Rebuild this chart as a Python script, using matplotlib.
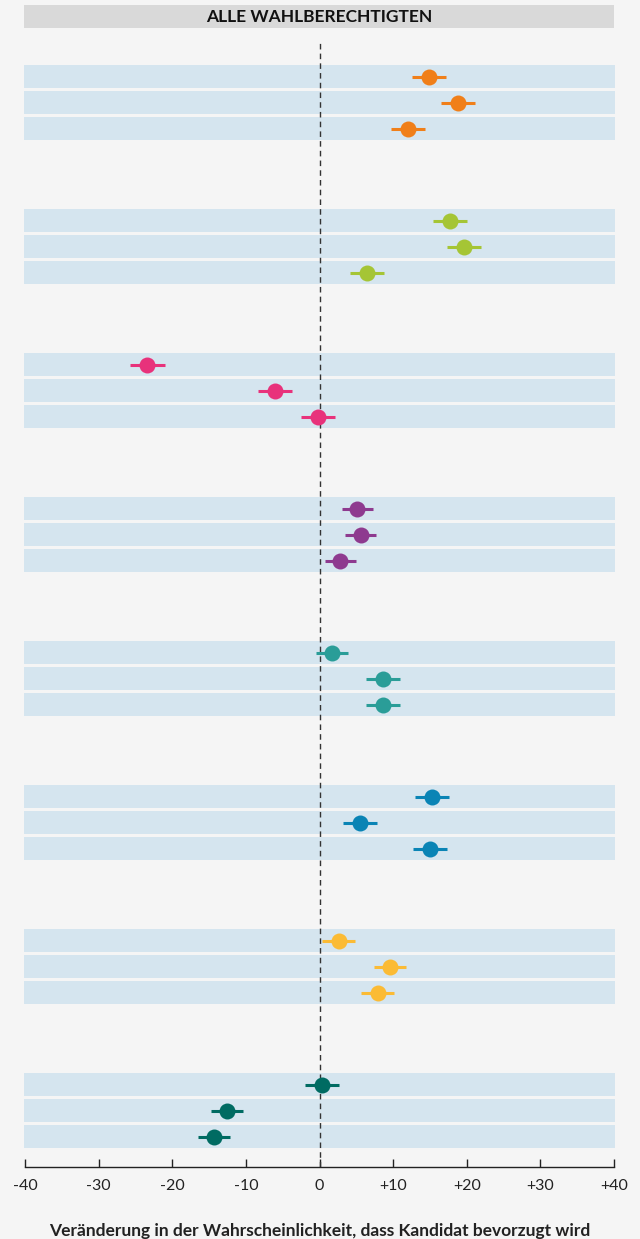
import matplotlib.pyplot as plt
from matplotlib.patches import Rectangle

plt.rcParams['font.family'] = ['Lato', 'DejaVu Sans']

# Werte je Gruppe (3 Zeilen pro Gruppe), Reihenfolge von oben nach unten
group_values = [
    [14.9, 18.8, 12.0],
    [17.7, 19.6, 6.5],
    [-23.4, -6.0, -0.2],
    [5.1, 5.6, 2.8],
    [1.7, 8.6, 8.6],
    [15.3, 5.5, 15.0],
    [2.6, 9.6, 7.9],
    [0.3, -12.6, -14.3],
]
group_err = [
    [2.3, 2.3, 2.3],
    [2.3, 2.3, 2.3],
    [2.4, 2.3, 2.3],
    [2.1, 2.1, 2.1],
    [2.2, 2.3, 2.3],
    [2.3, 2.3, 2.3],
    [2.2, 2.2, 2.2],
    [2.3, 2.2, 2.2],
]
group_colors = ["#f07f19", "#a5c535", "#e8327b", "#8e3a8f",
                "#2a9d98", "#0a84b5", "#fbbb35", "#006b62"]

xticks = [-40, -30, -20, -10, 0, 10, 20, 30, 40]
xticklabels = ["-40", "-30", "-20", "-10", "0", "+10", "+20", "+30", "+40"]

title = "ALLE WAHLBERECHTIGTEN"
xlabel = "Veränderung in der Wahrscheinlichkeit, dass Kandidat bevorzugt wird"

BG = "#f5f5f5"
BAND = "#d5e5ef"
GROUP_PITCH = 144 / 26.0

fig = plt.figure(figsize=(6.4, 12.39), dpi=100, facecolor=BG)
H = 1239.0
W = 640.0
ax = fig.add_axes([25 / W, (H - 1167) / H, 589 / W, (1167 - 43) / H])
ax.set_facecolor(BG)

for g, (vals, errs, col) in enumerate(zip(group_values, group_err, group_colors)):
    for r, (v, e) in enumerate(zip(vals, errs)):
        y = g * GROUP_PITCH + r
        ax.barh(y, 80.4, left=-40.2, height=23 / 26.0, color=BAND, zorder=1, clip_on=False)
        ax.plot([v - e, v + e], [y, y], color=col, lw=2.2, solid_capstyle="butt", zorder=3)
        ax.plot(v, y, "o", color=col, ms=11.5, mew=0, zorder=4)

last = (len(group_values) - 1) * GROUP_PITCH + 2
ax.set_ylim(last + 30.5 / 26, -33.5 / 26)
ax.set_xlim(-40, 40)
ax.axvline(0, color="#333333", lw=1, ls=(0, (4, 3)), zorder=2)

for s in ["top", "right", "left"]:
    ax.spines[s].set_visible(False)
ax.spines["bottom"].set_color("#222222")
ax.spines["bottom"].set_linewidth(1)
ax.set_yticks([])
ax.set_xticks(xticks)
ax.set_xticklabels(xticklabels, fontsize=11.5, color="#222222")
ax.tick_params(axis="x", direction="in", length=6, width=1, color="#222222", pad=9)
ax.set_xlabel(xlabel, fontsize=12.5, fontweight="bold", color="#222222", labelpad=21)

# Titelbalken
fig.patches.append(Rectangle((24 / W, (H - 28) / H), 590 / W, 23 / H,
                             transform=fig.transFigure, facecolor="#d9d9d9",
                             edgecolor="none", zorder=0))
fig.text(319 / W, (H - 16.5) / H, title, ha="center", va="center",
         fontsize=12.5, fontweight="bold", color="#111111")

fig.savefig("out.png", dpi=100, facecolor=BG)
